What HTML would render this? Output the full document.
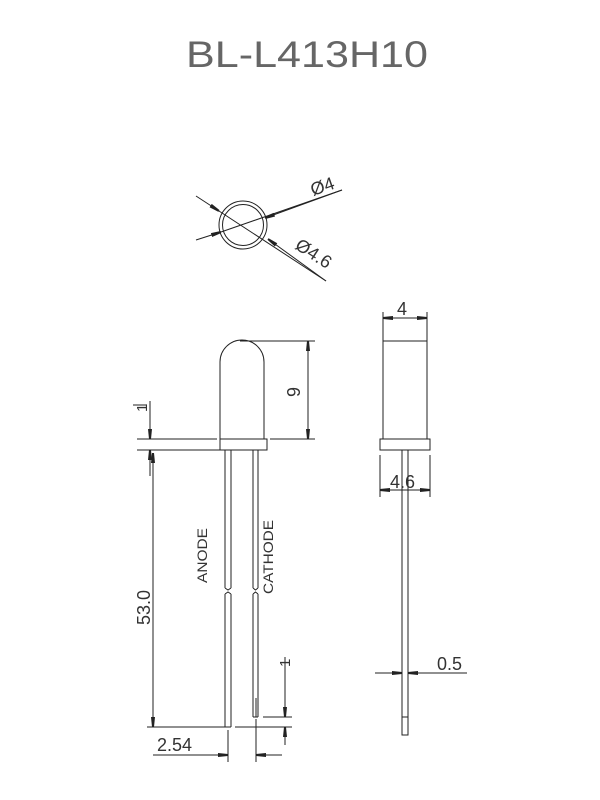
<!DOCTYPE html>
<html><head><meta charset="utf-8"><style>
html,body{margin:0;padding:0;background:#fff;}
svg{display:block;}
text{font-family:"Liberation Sans",sans-serif;fill:#333;stroke:none;}
</style></head><body>
<svg width="600" height="800" viewBox="0 0 600 800" xmlns="http://www.w3.org/2000/svg">
<defs>
<marker id="a" viewBox="0 0 10 6" refX="10" refY="3" markerWidth="10" markerHeight="6" markerUnits="userSpaceOnUse" orient="auto-start-reverse">
<path d="M0,1 L10,2 L10,4 L0,5 Z" fill="#222"/>
</marker>
</defs>
<text x="186" y="67" font-size="37" textLength="242" lengthAdjust="spacingAndGlyphs" style="fill:#666">BL-L413H10</text>
<g stroke="#222" stroke-width="1" fill="none">
<!-- top circle view -->
<circle cx="243" cy="225" r="24"/>
<circle cx="243" cy="225" r="20.5"/>
<line x1="196" y1="196" x2="219" y2="211" marker-end="url(#a)"/>
<line x1="219" y1="211" x2="326" y2="281"/>
<line x1="268" y1="239" x2="326" y2="281" marker-start="url(#a)"/>
<line x1="196" y1="240" x2="221" y2="232" marker-end="url(#a)"/>
<line x1="221" y1="232" x2="342" y2="190"/>
<line x1="265" y1="218" x2="342" y2="190" marker-start="url(#a)"/>

<!-- left view body -->
<path d="M220,439 L220,362 A22,22 0 0 1 264,362 L264,439"/>
<rect x="220" y="439" width="47" height="11"/>
<line x1="137" y1="439" x2="217" y2="439"/>
<line x1="137" y1="450" x2="220" y2="450"/>
<line x1="270" y1="439" x2="315" y2="439"/>
<line x1="240" y1="341" x2="315" y2="341"/>
<line x1="308" y1="341" x2="308" y2="439" marker-start="url(#a)" marker-end="url(#a)"/>

<!-- leads -->
<path d="M225,450 L225,588 M231,450 L231,588 M225,594 L225,727 M231,594 L231,727 M225,727 L231,727"/>
<path d="M225,588 L228,590 L231,588 M225,594 L228,592 L231,594"/>
<path d="M253,450 L253,588 M258,450 L258,588 M253,594 L253,717 M258,594 L258,717 M253,717 L258,717 M256,698 L256,717"/>
<path d="M253,588 L255.5,590 L258,588 M253,594 L255.5,592 L258,594"/>

<!-- left dims -->
<line x1="150" y1="401" x2="150" y2="439" marker-end="url(#a)"/>
<line x1="150" y1="476" x2="150" y2="450" marker-end="url(#a)"/>
<line x1="153" y1="453" x2="153" y2="727" marker-end="url(#a)" marker-start="url(#a)"/>
<line x1="133" y1="405" x2="147" y2="405"/>
<line x1="147" y1="727" x2="228" y2="727"/>
<line x1="235" y1="727" x2="292" y2="727"/>
<line x1="263" y1="717" x2="292" y2="717"/>
<line x1="228" y1="730" x2="228" y2="762"/>
<line x1="256" y1="719" x2="256" y2="762"/>
<line x1="153" y1="755" x2="228" y2="755" marker-end="url(#a)"/>
<line x1="282" y1="755" x2="256" y2="755" marker-end="url(#a)"/>
<line x1="285" y1="657" x2="285" y2="717" marker-end="url(#a)"/>
<line x1="285" y1="745" x2="285" y2="727" marker-end="url(#a)"/>

<!-- right view -->
<line x1="383" y1="312" x2="383" y2="439"/>
<line x1="427" y1="312" x2="427" y2="439"/>
<line x1="383" y1="341" x2="427" y2="341"/>
<line x1="383" y1="318" x2="427" y2="318" marker-start="url(#a)" marker-end="url(#a)"/>
<rect x="380" y="439" width="50" height="11"/>
<rect x="402" y="450" width="6" height="285"/>
<line x1="402" y1="717" x2="408" y2="717"/>
<line x1="380" y1="455" x2="380" y2="497"/>
<line x1="430" y1="455" x2="430" y2="497"/>
<line x1="380" y1="490" x2="430" y2="490" marker-start="url(#a)" marker-end="url(#a)"/>
<line x1="375" y1="673" x2="402" y2="673" marker-end="url(#a)"/>
<line x1="467" y1="673" x2="408" y2="673" marker-end="url(#a)"/>
</g>

<!-- labels -->
<g>
<text transform="translate(313,196) rotate(-19)" font-size="18">Ø4</text>
<text transform="translate(294,248) rotate(33)" font-size="18">Ø4.6</text>
<text transform="translate(300,397) rotate(-90)" font-size="18">9</text>
<text transform="translate(147,412) rotate(-90)" font-size="15">1</text>
<text transform="translate(150,625) rotate(-90)" font-size="18">53.0</text>
<text x="157" y="751" font-size="18">2.54</text>
<text transform="translate(290,667) rotate(-90)" font-size="15">1</text>
<text x="397" y="315" font-size="18">4</text>
<text x="390" y="488" font-size="18">4.6</text>
<text x="437" y="670" font-size="18">0.5</text>
<text transform="translate(207,583) rotate(-90)" font-size="14" textLength="55" lengthAdjust="spacingAndGlyphs">ANODE</text>
<text transform="translate(273,594) rotate(-90)" font-size="14" textLength="74" lengthAdjust="spacingAndGlyphs">CATHODE</text>
</g>
</svg>
</body></html>
